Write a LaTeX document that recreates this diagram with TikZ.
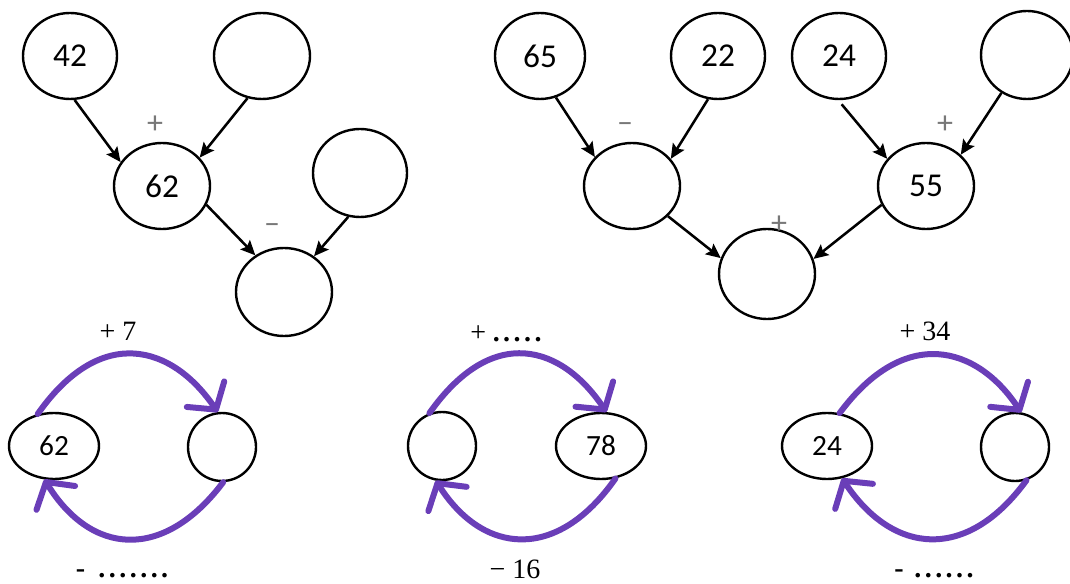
\documentclass[tikz,border=0pt]{standalone}
\usepackage{fontspec}
\setmainfont{Liberation Serif}
\newfontfamily\numfont{Carlito}
\usetikzlibrary{shapes.geometric,arrows.meta}
\definecolor{lilac}{RGB}{106,62,184}
\definecolor{signgray}{RGB}{120,120,120}
\tikzset{every picture/.style={line width=0.75pt}}
\tikzset{
  bubble/.style={draw, ellipse, line width=1.8pt, inner sep=0pt, font=\numfont\fontsize{25}{30}\selectfont},
  smallbubble/.style={bubble, font=\numfont\fontsize{22}{27}\selectfont},
  feed/.style={line width=1.9pt, -{Stealth[length=11pt,width=10pt,inset=2pt]}},
  swing/.style={draw=lilac, line width=4.5pt, line cap=round, -{Straight Barb[length=14pt,width=34pt,line cap=round,line join=round]}},
  opsign/.style={text=signgray, font=\numfont\fontsize{24}{28}\selectfont, inner sep=0pt},
  steplabel/.style={font=\fontsize{21}{25}\selectfont, inner sep=0pt},
}
\newcommand{\gapdots}[1]{\textbf{.}\foreach \k in {2,...,#1}{\kern2.6pt\textbf{.}}}

\begin{document}
\begin{tikzpicture}[x=0.75pt,y=0.75pt,yscale=-1,xscale=1]
	\useasboundingbox (0,0) rectangle (1070,584);

	%Shape: Ellipse (left tree)
	\node[bubble, minimum width=70.5pt, minimum height=64.5pt] (a42) at (70,56) {42};
	\node[bubble, minimum width=72pt, minimum height=64.5pt] (lb) at (262,56) {};
	\node[bubble, minimum width=72pt, minimum height=64.5pt] (l62) at (162,186) {62};
	\node[bubble, minimum width=70.5pt, minimum height=66pt] (lr) at (360,173) {};
	\node[bubble, minimum width=72pt, minimum height=66pt] (lbot) at (284,292) {};

	%Shape: Ellipse (right tree)
	\node[bubble, minimum width=67.5pt, minimum height=64.5pt] (r65) at (540,56) {65};
	\node[bubble, minimum width=70.5pt, minimum height=64.5pt] (r22) at (718,56) {22};
	\node[bubble, minimum width=70.5pt, minimum height=64.5pt] (r24) at (839,56) {24};
	\node[bubble, minimum width=69pt, minimum height=66pt] (rtr) at (1027,55) {};
	\node[bubble, minimum width=72pt, minimum height=64.5pt] (rml) at (632,186) {};
	\node[bubble, minimum width=72pt, minimum height=64.5pt] (r55) at (926,186) {55};
	\node[bubble, minimum width=72pt, minimum height=67.5pt] (rbot) at (767,274) {};

	%Straight Lines
	\draw[feed] (a42.-84) -- (l62.150);
	\draw[feed] (lb.-109) -- (l62.37);
	\draw[feed] (l62.-23) -- (lbot.128);
	\draw[feed] (lr.-105) -- (lbot.50);
	\draw[feed] (r65.-69) -- (rml.142);
	\draw[feed] (r22.-103) -- (rml.35);
	\draw[feed, shorten <=4pt] (r24.-91) -- (r55.145);
	\draw[feed] (rtr.-124) -- (r55.42);
	\draw[feed] (rml.-40) -- (rbot.161);
	\draw[feed] (r55.-157) -- (rbot.18);

	% Text Node
	\node[opsign] (lplus) at (155,125) {+};
	\node[opsign] (lminus) at (272,229) {–};
	\node[opsign] (rminus) at (625,128) {–};
	\node[opsign] (rplus) at (945,125) {+};
	\node[opsign] (bplus) at (779,225) {+};

	%Shape: Ellipse (bottom row)
	\node[smallbubble, minimum width=67.5pt, minimum height=49.5pt] (b62) at (54,446) {62};
	\node[smallbubble, minimum width=51pt, minimum height=51pt] (b1r) at (222,447) {};
	\node[smallbubble, minimum width=51pt, minimum height=51pt] (b2l) at (442,446) {};
	\node[smallbubble, minimum width=67.5pt, minimum height=49.5pt] (b78) at (601,446) {78};
	\node[smallbubble, minimum width=67.5pt, minimum height=49.5pt] (b24) at (827,446) {24};
	\node[smallbubble, minimum width=51pt, minimum height=51pt] (b3r) at (1015,447) {};

	%Curve Lines
	\draw[swing] (b62.117) .. controls (101,324) and (172,345) .. (b1r.97);
	\draw[swing] (b1r.-88) .. controls (163,562) and (91,555) .. (b62.-106);
	\draw[swing] (b2l.111) .. controls (493,323) and (562,346) .. (b78.81);
	\draw[swing] (b78.-66) .. controls (557,562) and (483,555) .. (b2l.-100);
	\draw[swing] (b24.69) .. controls (905,325) and (977,346) .. (b3r.80);
	\draw[swing] (b3r.-71) .. controls (967,562) and (893,555) .. (b24.-65);

	% Text Node
	\node[steplabel] (up1) at (118,331) {+ 7};
	\node[steplabel] (up2) at (506,334) {+\hspace{5pt}\gapdots{5}};
	\node[steplabel] (up3) at (925,331) {+ 34};
	\node[steplabel] (down1) at (122,574) {\textbf{-}\hspace{10pt}\gapdots{7}};
	\node[steplabel] (down2) at (515,569) {− 16};
	\node[steplabel] (down3) at (934,574) {\textbf{-}\hspace{8pt}\gapdots{6}};

\end{tikzpicture}
\end{document}
